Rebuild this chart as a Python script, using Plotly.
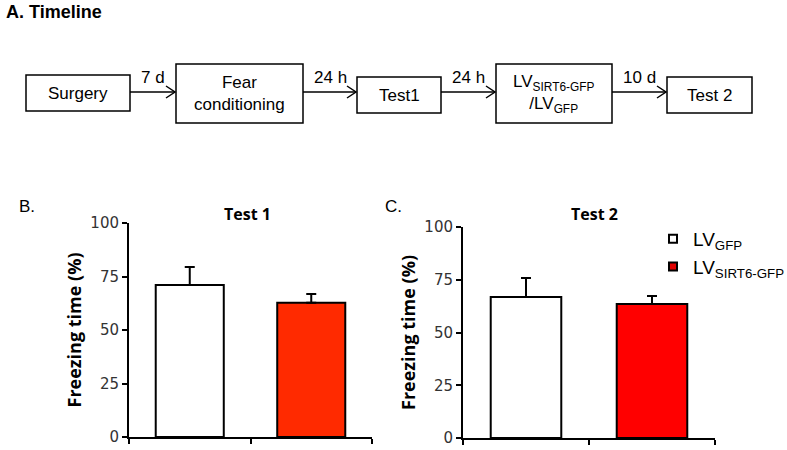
import plotly.graph_objects as go

# ---- data ----
groups = ["LV<sub>GFP</sub>", "LV<sub>SIRT6-GFP</sub>"]
test1_mean = [71.0, 62.7]
test1_err = [8.4, 4.1]
test2_mean = [66.8, 63.5]
test2_err = [9.0, 3.8]
yticks = [0, 25, 50, 75, 100]
timeline_steps = ["Surgery", "Fear<br>conditioning", "Test1", "LV<sub>SIRT6-GFP</sub><br>/LV<sub>GFP</sub>", "Test 2"]
timeline_gaps = ["7 d", "24 h", "24 h", "10 d"]

W, H = 787, 450
def px(x): return x / W
def py(y): return 1 - y / H

fig = go.Figure()
fills1 = ["#FFFFFF", "#FF2A00"]
fills2 = ["#FFFFFF", "#FF0000"]
for i in range(2):
    fig.add_trace(go.Bar(x=[i], y=[test1_mean[i]], xaxis="x", yaxis="y",
                         marker=dict(color=fills1[i], line=dict(color="black", width=2)),
                         width=0.56, showlegend=False,
                         error_y=dict(type="data", array=[test1_err[i]], arrayminus=[0], symmetric=False,
                                      color="black", thickness=2, width=5)))
    fig.add_trace(go.Bar(x=[i], y=[test2_mean[i]], xaxis="x2", yaxis="y2",
                         marker=dict(color=fills2[i], line=dict(color="black", width=2)),
                         width=0.56, showlegend=False,
                         error_y=dict(type="data", array=[test2_err[i]], arrayminus=[0], symmetric=False,
                                      color="black", thickness=2, width=5)))
leg_cols = ["#FFFFFF", "#E00000"]
for i in range(2):
    fig.add_trace(go.Scatter(x=[None], y=[None], mode="markers", name=groups[i], xaxis="x2", yaxis="y2",
                             marker=dict(symbol="square", size=8, color=leg_cols[i],
                                         line=dict(color="black", width=2))))

axfont = dict(family="DejaVu Sans, sans-serif", size=15, color="#333333")
xcommon = dict(range=[-0.5, 1.5], showline=True, linecolor="black", linewidth=2,
               tickvals=[-0.5, 0.5, 1.5], showticklabels=False, ticks="outside", ticklen=5,
               tickwidth=2, tickcolor="black", showgrid=False, zeroline=False, fixedrange=True,
               automargin=False)
ycommon = dict(range=[0, 100], tickvals=yticks, showline=True, linecolor="black", linewidth=2,
               ticks="outside", ticklen=5, tickwidth=2, tickcolor="black", showgrid=False,
               zeroline=False, tickfont=axfont, automargin=False, fixedrange=True,
               title=dict(text="<b>Freezing time (%)</b>", font=dict(family="Open Sans, sans-serif", size=18, color="black"),
                          standoff=4))

fig.update_layout(
    width=W, height=H, margin=dict(l=0, r=0, t=0, b=0, pad=0, autoexpand=False),
    paper_bgcolor="white", plot_bgcolor="white",
    xaxis=dict(domain=[px(129), px(372)], anchor="y", **xcommon),
    yaxis=dict(domain=[py(437), py(223)], anchor="x", **ycommon),
    xaxis2=dict(domain=[px(463), px(715)], anchor="y2", **xcommon),
    yaxis2=dict(domain=[py(438), py(227)], anchor="x2", **ycommon),
    legend=dict(x=px(653), y=py(220), xanchor="left", yanchor="top", bgcolor="rgba(0,0,0,0)",
                font=dict(family="Liberation Sans, Arial, sans-serif", size=19, color="black"),
                tracegroupgap=0, itemwidth=30),
    showlegend=True,
)

ann = []
shapes = []
T = dict(family="Liberation Sans, Arial, sans-serif", color="black")
ann.append(dict(text="<b>A. Timeline</b>", x=px(4), y=py(12), xref="paper", yref="paper",
                xanchor="left", yanchor="middle", showarrow=False, font=dict(size=18, **T)))
ann.append(dict(text="B.", x=px(17), y=py(206), xref="paper", yref="paper", xanchor="left",
                yanchor="middle", showarrow=False, font=dict(size=17, **T)))
ann.append(dict(text="C.", x=px(383), y=py(207), xref="paper", yref="paper", xanchor="left",
                yanchor="middle", showarrow=False, font=dict(size=17, **T)))
ann.append(dict(text="<b>Test 1</b>", x=px(247), y=py(214), xref="paper", yref="paper",
                xanchor="center", yanchor="middle", showarrow=False,
                font=dict(family="Open Sans, sans-serif", size=16, color="black")))
ann.append(dict(text="<b>Test 2</b>", x=px(594), y=py(214), xref="paper", yref="paper",
                xanchor="center", yanchor="middle", showarrow=False,
                font=dict(family="Open Sans, sans-serif", size=16, color="black")))

boxes = [(26, 130, 75, 111), (176, 303, 64, 123), (357, 441, 77, 113), (496, 612, 64, 123), (667, 752, 77, 113)]
for (x0, x1, y0, y1), lab in zip(boxes, timeline_steps):
    shapes.append(dict(type="rect", xref="paper", yref="paper", x0=px(x0), x1=px(x1), y0=py(y1), y1=py(y0),
                       line=dict(color="black", width=1.5), fillcolor="white"))
    ann.append(dict(text=lab, x=px((x0 + x1) / 2), y=py((y0 + y1) / 2), xref="paper", yref="paper",
                    xanchor="center", yanchor="middle", showarrow=False, font=dict(size=17, **T)))
for k, lab in enumerate(timeline_gaps):
    xa = boxes[k][1]
    xb = boxes[k + 1][0]
    ya = 92
    shapes.append(dict(type="line", xref="paper", yref="paper", x0=px(xa), x1=px(xb - 1), y0=py(ya), y1=py(ya),
                       line=dict(color="black", width=1.5)))
    shapes.append(dict(type="path", xref="paper", yref="paper",
                       path=f"M {px(xb-10)} {py(ya-6)} L {px(xb-1)} {py(ya)} L {px(xb-10)} {py(ya+6)}",
                       line=dict(color="black", width=1.5)))
    ann.append(dict(text=lab, x=px((xa + xb) / 2), y=py(77), xref="paper", yref="paper",
                    xanchor="center", yanchor="middle", showarrow=False, font=dict(size=17, **T)))

fig.update_layout(annotations=ann, shapes=shapes)
fig.write_html("out.html", config={"displayModeBar": False},
               post_script="document.body.style.margin='0';document.body.style.padding='0';")
